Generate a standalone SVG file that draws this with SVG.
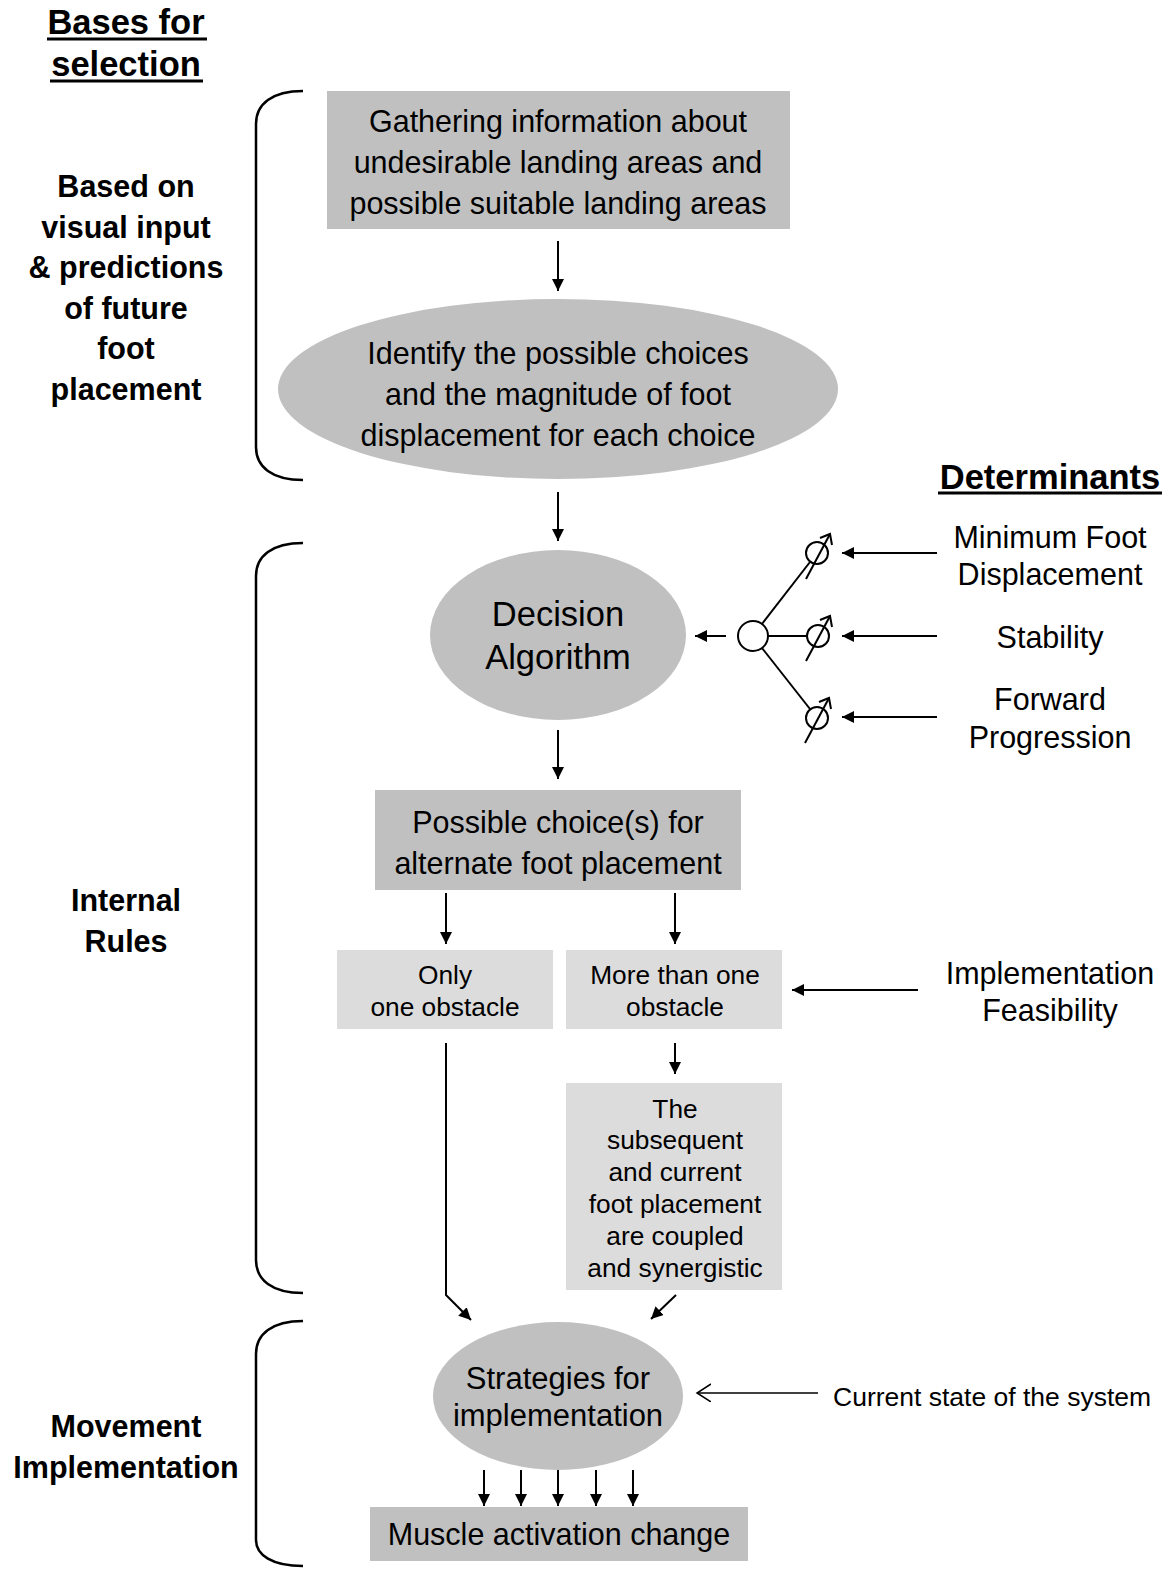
<svg xmlns="http://www.w3.org/2000/svg" width="1173" height="1570" viewBox="0 0 1173 1570">
<style>
  text { font-family: "Liberation Sans", Arial, sans-serif; fill: #000; text-anchor: middle; }
  .b { font-weight: bold; }
  .dark { fill: #c0c0c0; }
  .light { fill: #dcdcdc; }
  .ln { stroke: #000; stroke-width: 2; fill: none; }
  .br { stroke: #000; stroke-width: 2.5; fill: none; }
</style>
<defs>
  <marker id="ah" markerUnits="userSpaceOnUse" markerWidth="14" markerHeight="14" refX="12" refY="6" orient="auto">
    <path d="M0,0 L12,6 L0,12 Z" fill="#000"/>
  </marker>
  <marker id="oh" markerUnits="userSpaceOnUse" markerWidth="16" markerHeight="20" refX="14" refY="9" orient="auto">
    <path d="M0,0 L14,9 L0,18" fill="none" stroke="#000" stroke-width="1.5"/>
  </marker>
</defs>
<rect width="1173" height="1570" fill="#fff"/>

<g id="headers">
  <text class="b" x="126" y="34" font-size="34.5">Bases for</text>
  <line x1="47" y1="39" x2="207" y2="39" stroke="#000" stroke-width="3"/>
  <text class="b" x="126" y="76" font-size="34.5">selection</text>
  <line x1="50" y1="81" x2="203" y2="81" stroke="#000" stroke-width="3"/>
  <text class="b" x="1050" y="489" font-size="34.5">Determinants</text>
  <line x1="938" y1="493" x2="1162" y2="493" stroke="#000" stroke-width="3"/>
</g>

<g id="left-labels">
  <text class="b" font-size="30.5" x="126"><tspan x="126" y="197">Based on</tspan><tspan x="126" y="238">visual input</tspan><tspan x="126" y="278">&amp; predictions</tspan><tspan x="126" y="319">of future</tspan><tspan x="126" y="359">foot</tspan><tspan x="126" y="400">placement</tspan></text>
  <text class="b" font-size="30.5"><tspan x="126" y="911">Internal</tspan><tspan x="126" y="952">Rules</tspan></text>
  <text class="b" font-size="30.5"><tspan x="126" y="1437">Movement</tspan><tspan x="126" y="1478">Implementation</tspan></text>
</g>

<g id="brackets">
  <path class="br" d="M303,91 C272,91 256,104 256,124 L256,447 C256,467 272,480 303,480"/>
  <path class="br" d="M303,543 C272,543 256,556 256,576 L256,1260 C256,1280 272,1293 303,1293"/>
  <path class="br" d="M303,1321 C272,1321 256,1334 256,1354 L256,1540 C256,1555 272,1566 303,1566"/>
</g>

<g id="n-gather">
  <rect class="dark" x="327" y="91" width="463" height="138"/>
  <text font-size="30.5"><tspan x="558" y="132">Gathering information about</tspan><tspan x="558" y="173">undesirable landing areas and</tspan><tspan x="558" y="214">possible suitable landing areas</tspan></text>
</g>

<g id="n-identify">
  <ellipse class="dark" cx="558" cy="389" rx="280" ry="90"/>
  <text font-size="30.5"><tspan x="558" y="364">Identify the possible choices</tspan><tspan x="558" y="405">and the magnitude of foot</tspan><tspan x="558" y="446">displacement for each choice</tspan></text>
</g>

<g id="n-decision">
  <ellipse class="dark" cx="558" cy="635" rx="128" ry="85"/>
  <text font-size="34.5"><tspan x="558" y="626">Decision</tspan><tspan x="558" y="669">Algorithm</tspan></text>
</g>

<g id="n-hub">
  <circle cx="753" cy="636" r="15" fill="#fff" stroke="#000" stroke-width="2"/>
</g>

<g id="n-res1">
  <circle cx="817" cy="553" r="11" fill="#fff" stroke="#000" stroke-width="2"/>
  <line class="ln" x1="806" y1="579" x2="830" y2="534"/>
  <path class="ln" d="M820,538 L830,534 L832,545"/>
</g>
<g id="n-res2">
  <circle cx="818" cy="636" r="11" fill="#fff" stroke="#000" stroke-width="2"/>
  <line class="ln" x1="806" y1="661" x2="830" y2="616"/>
  <path class="ln" d="M820,620 L830,616 L832,627"/>
</g>
<g id="n-res3">
  <circle cx="817" cy="718" r="11" fill="#fff" stroke="#000" stroke-width="2"/>
  <line class="ln" x1="805" y1="743" x2="829" y2="698"/>
  <path class="ln" d="M819,702 L829,698 L831,709"/>
</g>

<g id="n-determinants">
  <text font-size="30.5"><tspan x="1050" y="548">Minimum Foot</tspan><tspan x="1050" y="585">Displacement</tspan></text>
  <text font-size="30.5" x="1050" y="648">Stability</text>
  <text font-size="30.5"><tspan x="1050" y="710">Forward</tspan><tspan x="1050" y="748">Progression</tspan></text>
</g>

<g id="n-choices">
  <rect class="dark" x="375" y="790" width="366" height="100"/>
  <text font-size="30.5"><tspan x="558" y="833">Possible choice(s) for</tspan><tspan x="558" y="874">alternate foot placement</tspan></text>
</g>

<g id="n-only">
  <rect class="light" x="337" y="950" width="216" height="79"/>
  <text font-size="26.3"><tspan x="445" y="984">Only</tspan><tspan x="445" y="1016">one obstacle</tspan></text>
</g>

<g id="n-more">
  <rect class="light" x="566" y="950" width="216" height="79"/>
  <text font-size="26.3"><tspan x="675" y="984">More than one</tspan><tspan x="675" y="1016">obstacle</tspan></text>
</g>

<g id="n-feasibility">
  <text font-size="30.5"><tspan x="1050" y="984">Implementation</tspan><tspan x="1050" y="1021">Feasibility</tspan></text>
</g>

<g id="n-coupled">
  <rect class="light" x="566" y="1083" width="216" height="207"/>
  <text font-size="26.3"><tspan x="675" y="1118">The</tspan><tspan x="675" y="1149">subsequent</tspan><tspan x="675" y="1181">and current</tspan><tspan x="675" y="1213">foot placement</tspan><tspan x="675" y="1245">are coupled</tspan><tspan x="675" y="1277">and synergistic</tspan></text>
</g>

<g id="n-strategies">
  <ellipse class="dark" cx="558" cy="1396" rx="125" ry="74"/>
  <text font-size="31"><tspan x="558" y="1389">Strategies for</tspan><tspan x="558" y="1426">implementation</tspan></text>
</g>

<g id="n-current">
  <text font-size="26.5" x="833" y="1406" style="text-anchor:start">Current state of the system</text>
</g>

<g id="n-muscle">
  <rect class="dark" x="370" y="1507" width="378" height="54"/>
  <text font-size="30.5" x="559" y="1545">Muscle activation change</text>
</g>

<g id="connectors">
  <line class="ln" x1="558" y1="241" x2="558" y2="291" marker-end="url(#ah)"/>
  <line class="ln" x1="558" y1="492" x2="558" y2="541" marker-end="url(#ah)"/>
  <line class="ln" x1="726" y1="636" x2="695" y2="636" marker-end="url(#ah)"/>
  <line class="ln" x1="762" y1="624" x2="810" y2="562"/>
  <line class="ln" x1="768" y1="636" x2="807" y2="636"/>
  <line class="ln" x1="762" y1="648" x2="810" y2="709"/>
  <line class="ln" x1="937" y1="553" x2="842" y2="553" marker-end="url(#ah)"/>
  <line class="ln" x1="937" y1="636" x2="842" y2="636" marker-end="url(#ah)"/>
  <line class="ln" x1="937" y1="717" x2="842" y2="717" marker-end="url(#ah)"/>
  <line class="ln" x1="558" y1="730" x2="558" y2="779" marker-end="url(#ah)"/>
  <line class="ln" x1="446" y1="893" x2="446" y2="944" marker-end="url(#ah)"/>
  <line class="ln" x1="675" y1="893" x2="675" y2="944" marker-end="url(#ah)"/>
  <line class="ln" x1="918" y1="990" x2="792" y2="990" marker-end="url(#ah)"/>
  <line class="ln" x1="675" y1="1043" x2="675" y2="1074" marker-end="url(#ah)"/>
  <polyline class="ln" points="446,1043 446,1295 471,1320" marker-end="url(#ah)"/>
  <line class="ln" x1="676" y1="1295" x2="651" y2="1319" marker-end="url(#ah)"/>
  <line x1="818" y1="1393" x2="697" y2="1393" stroke="#000" stroke-width="1.5" marker-end="url(#oh)"/>
  <line class="ln" x1="484" y1="1470" x2="484" y2="1506" marker-end="url(#ah)"/>
  <line class="ln" x1="521" y1="1470" x2="521" y2="1506" marker-end="url(#ah)"/>
  <line class="ln" x1="558" y1="1470" x2="558" y2="1506" marker-end="url(#ah)"/>
  <line class="ln" x1="596" y1="1470" x2="596" y2="1506" marker-end="url(#ah)"/>
  <line class="ln" x1="633" y1="1470" x2="633" y2="1506" marker-end="url(#ah)"/>
</g>
</svg>
